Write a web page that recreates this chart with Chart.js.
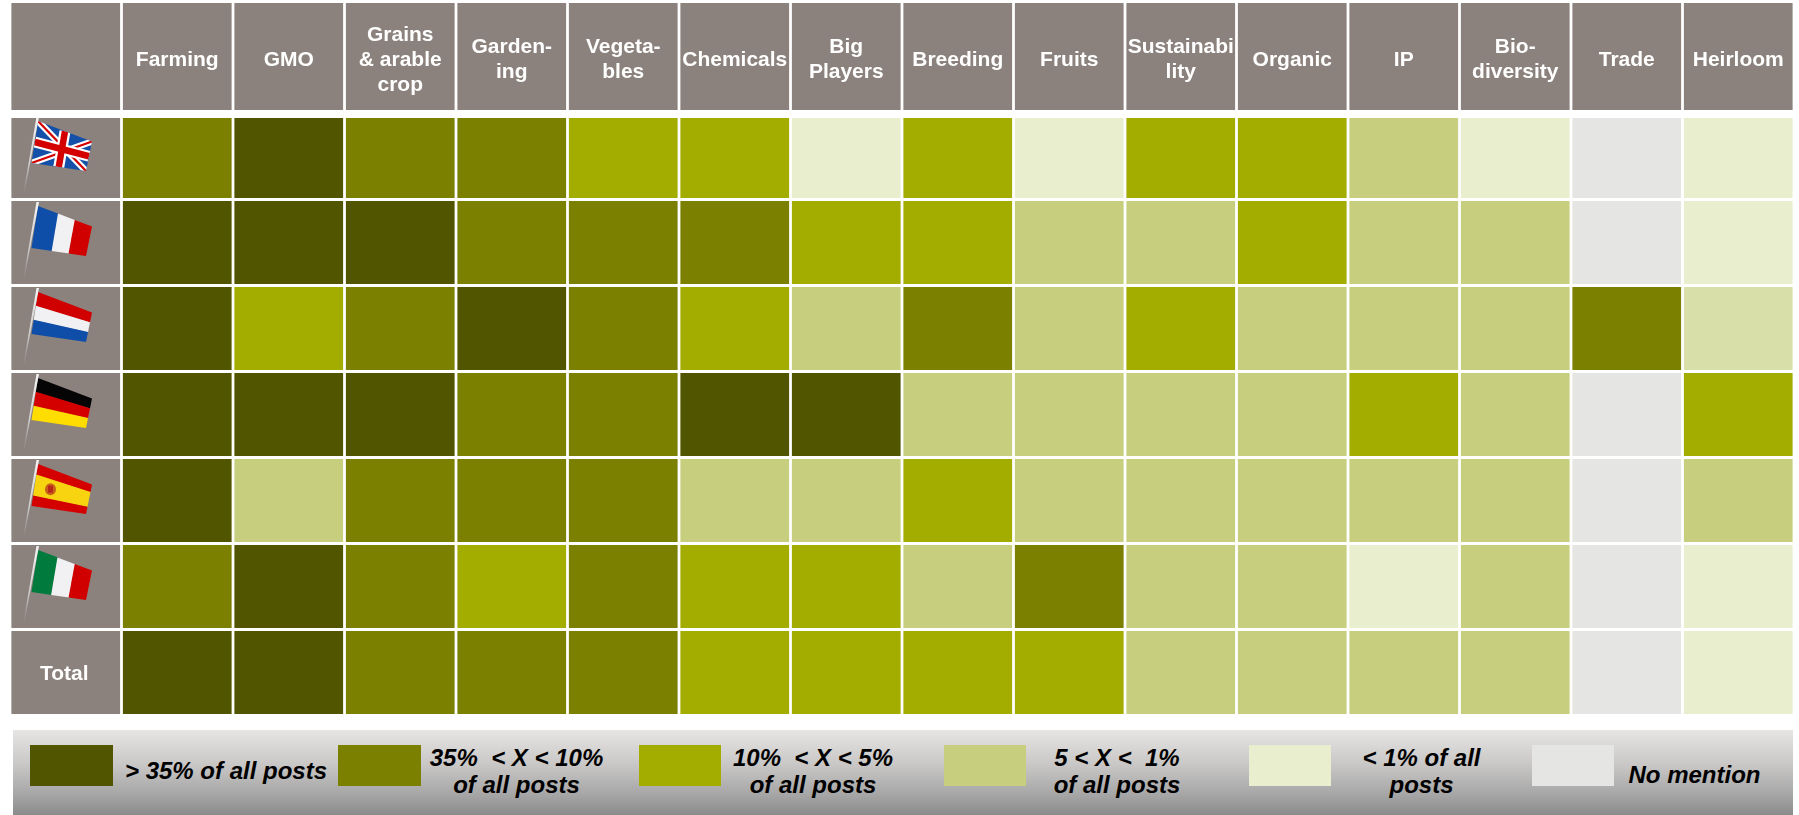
<!DOCTYPE html>
<html>
<head>
<meta charset="utf-8">
<style>
html,body{margin:0;padding:0;background:#fff;width:1799px;height:815px;overflow:hidden}
#wrap{position:relative;width:1799px;height:815px;font-family:"Liberation Sans",Arial,sans-serif}
canvas{position:absolute;left:0;top:0}
#legend{position:absolute;left:13px;top:730px;width:1780px;height:85px;background:linear-gradient(#e6e5e3 0%,#c9c8c7 40%,#a8a7a7 75%,#8b8b8b 100%)}
.sw{position:absolute;top:15px;height:41px}
.lt{position:absolute;transform:translateX(-50%);font:italic bold 24px/27px "Liberation Sans",Arial,sans-serif;color:#000;white-space:pre;text-align:center}
</style>
</head>
<body>
<div id="wrap">
<canvas id="c" width="1799" height="725"></canvas>
<div id="legend"></div>
</div>
<script src="https://cdn.jsdelivr.net/npm/chart.js@4/dist/chart.umd.min.js"></script>
<script>
// ---- data ----
const categories = ['', 'Farming', 'GMO', ['Grains', '& arable', 'crop'], ['Garden-', 'ing'], ['Vegeta-', 'bles'],
  'Chemicals', ['Big', 'Players'], 'Breeding', 'Fruits', ['Sustainabi', 'lity'], 'Organic', 'IP', ['Bio-', 'diversity'], 'Trade', 'Heirloom'];
const rowNames = ['UK', 'France', 'Netherlands', 'Germany', 'Spain', 'Italy', 'Total'];
// level: 1 = > 35%, 2 = 35-10%, 3 = 10-5%, 4 = 5-1%, 5 = < 1%, 0 = no mention, 6 = lighter 5-1% shade
const uk          = [2,1,2,2,3,3,5,3,5,3,3,4,5,0,5];
const france      = [1,1,1,2,2,2,3,3,4,4,3,4,4,0,5];
const netherlands = [1,3,2,1,2,3,4,2,4,3,4,4,4,2,6];
const germany     = [1,1,1,2,2,1,1,4,4,4,4,3,4,0,3];
const spain       = [1,4,2,2,2,4,4,3,4,4,4,4,4,0,4];
const italy       = [2,1,2,3,2,3,3,4,2,4,4,5,4,0,5];
const total       = [1,1,2,2,2,3,3,3,3,4,4,4,4,0,5];
const legendLabels = ['> 35% of all posts', '35%  < X < 10%\nof all posts', '10%  < X < 5%\nof all posts', '5 < X <  1%\nof all posts', '< 1% of all\nposts', 'No mention'];
const legendLevels = [1, 2, 3, 4, 5, 0];

// ---- styles & layout ----
const palette = {0:'#E5E5E3',1:'#525500',2:'#7B8000',3:'#A3AD00',4:'#C7CF7F',5:'#E9EECE',6:'#D9DFA8'};
const headGrey = '#8C827D';
const matrix = [uk, france, netherlands, germany, spain, italy, total];
const plotTop = 3, plotBottom = 714;
// vertical bands on the y scale (pixels below plot top)
const headerBand = [0, 107];
const bands = [[115,195]];
for (let i = 0; i < 6; i++) bands.push([198 + 86*i, 281 + 86*i]);

const datasets = [{
  label: 'Header',
  data: categories.map(() => headerBand),
  backgroundColor: categories.map(() => headGrey)
}];
matrix.forEach((row, r) => datasets.push({
  label: rowNames[r],
  data: categories.map(() => bands[r]),
  backgroundColor: [headGrey].concat(row.map(l => palette[l]))
}));
datasets.forEach(d => { d.barPercentage = 0.975; d.categoryPercentage = 1; d.grouped = false; d.borderWidth = 0; });

// ---- flags ----
function quadMap(q){
  return (u,v)=>{
    const tx=q[0][0]+(q[1][0]-q[0][0])*u, ty=q[0][1]+(q[1][1]-q[0][1])*u;
    const bx=q[3][0]+(q[2][0]-q[3][0])*u, by=q[3][1]+(q[2][1]-q[3][1])*u;
    return [tx+(bx-tx)*v, ty+(by-ty)*v];
  };
}
function patch(ctx,m,u0,v0,u1,v1,col){
  ctx.fillStyle=col;ctx.beginPath();
  [[u0,v0],[u1,v0],[u1,v1],[u0,v1]].forEach((p,i)=>{const a=m(p[0],p[1]);i?ctx.lineTo(a[0],a[1]):ctx.moveTo(a[0],a[1]);});
  ctx.closePath();ctx.fill();
}
function seg(ctx,m,a,b,col,w){
  const p=m(a[0],a[1]),q=m(b[0],b[1]);
  ctx.strokeStyle=col;ctx.lineWidth=w;ctx.beginPath();ctx.moveTo(p[0],p[1]);ctx.lineTo(q[0],q[1]);ctx.stroke();
}
const flagPainters = {
  UK(ctx,m){
    patch(ctx,m,0,0,1,1,'#1450A8');
    ctx.save();ctx.beginPath();
    [[0,0],[1,0],[1,1],[0,1]].forEach((p,i)=>{const a=m(p[0],p[1]);i?ctx.lineTo(a[0],a[1]):ctx.moveTo(a[0],a[1]);});
    ctx.closePath();ctx.clip();
    seg(ctx,m,[0,0],[1,1],'#fff',6.5);seg(ctx,m,[1,0],[0,1],'#fff',6.5);
    seg(ctx,m,[0,0],[1,1],'#D40000',2.2);seg(ctx,m,[1,0],[0,1],'#D40000',2.2);
    seg(ctx,m,[.5,0],[.5,1],'#fff',11);seg(ctx,m,[0,.5],[1,.5],'#fff',11);
    seg(ctx,m,[.5,0],[.5,1],'#D40000',6.5);seg(ctx,m,[0,.5],[1,.5],'#D40000',6.5);
    ctx.restore();
  },
  France(ctx,m){patch(ctx,m,0,0,.38,1,'#0F4EA8');patch(ctx,m,.37,0,.69,1,'#F1F1F3');patch(ctx,m,.68,0,1,1,'#D00000');},
  Netherlands(ctx,m){patch(ctx,m,0,0,1,.34,'#D00000');patch(ctx,m,0,.33,1,.67,'#F1F1F3');patch(ctx,m,0,.66,1,1,'#0F4EA8');},
  Germany(ctx,m){patch(ctx,m,0,0,1,.34,'#050505');patch(ctx,m,0,.33,1,.67,'#D40000');patch(ctx,m,0,.66,1,1,'#FFDD00');},
  Spain(ctx,m){
    patch(ctx,m,0,0,1,.26,'#D40000');patch(ctx,m,0,.25,1,.76,'#F8D410');patch(ctx,m,0,.75,1,1,'#D40000');
    const c=m(.29,.5);
    ctx.fillStyle='#C8601A';ctx.beginPath();ctx.ellipse(c[0],c[1],5.5,6,0,0,7);ctx.fill();
    ctx.fillStyle='#B8281A';ctx.fillRect(c[0]-2.5,c[1]-3.5,5,7);
  },
  Italy(ctx,m){patch(ctx,m,0,0,.37,1,'#007A3D');patch(ctx,m,.36,0,.69,1,'#F1F1F3');patch(ctx,m,.68,0,1,1,'#D00000');}
};
const flagPlugin = {
  id:'flags',
  afterDatasetsDraw(chart){
    const {ctx,scales:{x,y}} = chart;
    const x0 = x.getPixelForValue(0) - 55.75;
    rowNames.forEach((name,r)=>{
      const paint = flagPainters[name];
      if(!paint) return;
      const t = y.getPixelForValue(bands[r][0]);
      const d = r===0 ? -2 : 0;
      const q = [[x0+28,t+5+d],[x0+82,t+25.5+d],[x0+76,t+55+d],[x0+21.5,t+47+d]];
      ctx.save();
      ctx.filter='blur(0.45px)';
      paint(ctx,quadMap(q));
      const px=x0+27, g=ctx.createLinearGradient(0,t+d,0,t+78+d);
      g.addColorStop(0,'#f4f4f4');g.addColorStop(.6,'#cfcfcf');g.addColorStop(1,'rgba(190,190,190,0)');
      ctx.fillStyle=g;ctx.beginPath();
      ctx.moveTo(px-.5,t+1+d);ctx.lineTo(px+2,t+1+d);ctx.lineTo(px-12.6,t+77+d);ctx.lineTo(px-13.6,t+77+d);ctx.closePath();ctx.fill();
      ctx.restore();
    });
  }
};

const headFont = {family:'"Liberation Sans",Arial,sans-serif', size:21, weight:'bold', lineHeight:1.2};
const headTicks = {z:1,mirror:true,color:'#fff',font:headFont,crossAlign:'near',autoSkip:false,maxRotation:0,minRotation:0};
const isTwoLine = l => Array.isArray(l) && l.length === 2;

new Chart(document.getElementById('c'),{
  type:'bar',
  data:{labels:categories, datasets},
  plugins:[flagPlugin],
  options:{
    responsive:false,
    animation:false,
    events:[],
    layout:{padding:{left:10,right:5,top:plotTop,bottom:725-plotBottom}},
    plugins:{legend:{display:false},tooltip:{enabled:false}},
    scales:{
      x:{
        position:'top',
        offset:true,
        grid:{display:false,drawTicks:false},
        border:{display:false},
        ticks:{...headTicks,padding:-31,callback(v,i){const l=categories[i];return isTwoLine(l)?'':(Array.isArray(l)?l:['',l,'']);}},
        afterFit(s){s.height=0;s.paddingLeft=0;s.paddingRight=0;}
      },
      x2:{
        axis:'x',
        type:'category',
        position:'top',
        offset:true,
        grid:{display:false,drawTicks:false},
        border:{display:false},
        ticks:{...headTicks,padding:6,callback(v,i){const l=categories[i];return isTwoLine(l)?l:'';}},
        afterFit(s){s.height=0;s.paddingLeft=0;s.paddingRight=0;}
      },
      y:{
        reverse:true,
        min:0,
        max:plotBottom-plotTop,
        position:'left',
        grid:{display:false,drawTicks:false},
        border:{display:false},
        afterBuildTicks(s){s.ticks=[{value:(bands[6][0]+bands[6][1])/2+2}];},
        ticks:{z:1,mirror:true,color:'#fff',font:headFont,padding:30,callback(){return rowNames[6];}},
        afterFit(s){s.width=0;s.paddingTop=0;s.paddingBottom=0;}
      }
    }
  }
});

// ---- legend ----
const legend = document.getElementById('legend');
const swatchX = [30,338,639,944,1248.5,1532];
const swatchW = [83,83,82,82,82,82];
const textX = [226,516.5,813,1117,1421.5,1694.5];
const textY = [770,757,757,757,757,774];
legendLabels.forEach((txt,i)=>{
  const s=document.createElement('div');
  s.className='sw';
  s.style.left=(swatchX[i]-13)+'px';
  s.style.width=swatchW[i]+'px';
  s.style.background=palette[legendLevels[i]];
  legend.appendChild(s);
  const t=document.createElement('div');
  t.className='lt';
  t.style.left=(textX[i]-13)+'px';
  t.style.top=(textY[i]-730-13.5)+'px';
  t.textContent=txt;
  legend.appendChild(t);
});
</script>
</body>
</html>
